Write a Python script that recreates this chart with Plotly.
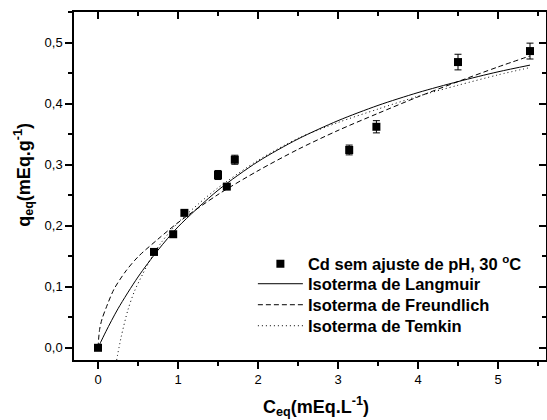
import plotly.graph_objects as go

# Experimental adsorption data (Cd, no pH adjustment, 30 °C)
c_eq = [0.0, 0.70, 0.94, 1.08, 1.50, 1.61, 1.71, 3.14, 3.48, 4.50, 5.40]
q_eq = [0.0, 0.157, 0.186, 0.221, 0.283, 0.264, 0.308, 0.324, 0.362, 0.468, 0.486]
q_err = [0.0, 0.004, 0.004, 0.004, 0.0074, 0.004, 0.0074, 0.008, 0.010, 0.0128, 0.013]

# Fitted isotherm curves
c_lang = [0, 0.1, 0.25, 0.5, 0.75, 1.0, 1.5, 2.0, 2.5, 3.0, 3.5, 4.0, 4.5, 5.0, 5.4]
q_lang = [0, 0.027, 0.064, 0.116, 0.160, 0.198, 0.258, 0.305, 0.342, 0.372, 0.397,
          0.418, 0.436, 0.452, 0.463]

c_freu = [0, 0.02, 0.05, 0.1, 0.2, 0.35, 0.5, 0.75, 1.0, 1.5, 2.0, 2.5, 3.0, 3.5,
          4.0, 4.5, 5.0, 5.4]
q_freu = [0, 0.030, 0.047, 0.065, 0.096, 0.126, 0.149, 0.178, 0.205, 0.251, 0.290,
          0.325, 0.356, 0.384, 0.411, 0.436, 0.460, 0.478]

c_temk = [0.233, 0.29, 0.374, 0.457, 0.56, 0.67, 0.8, 1.0, 1.25, 1.5, 2.0, 2.5, 3.0,
          3.5, 4.0, 4.5, 5.0, 5.4]
q_temk = [-0.02, 0.018, 0.062, 0.093, 0.121, 0.148, 0.174, 0.205, 0.235, 0.262, 0.307,
          0.343, 0.369, 0.391, 0.412, 0.430, 0.447, 0.459]

x_ticks = [0, 1, 2, 3, 4, 5]
y_ticks = [0.0, 0.1, 0.2, 0.3, 0.4, 0.5]
x_range = [-0.3, 5.6]
y_range = [-0.02, 0.55]

FONT = "Arial, Liberation Sans, sans-serif"

fig = go.Figure()

fig.add_trace(go.Scatter(
    x=c_lang, y=q_lang, mode="lines", name="Isoterma de Langmuir",
    line=dict(color="black", width=1, shape="spline", smoothing=0.8),
    legend="legend2",
))
fig.add_trace(go.Scatter(
    x=c_freu, y=q_freu, mode="lines", name="Isoterma de Freundlich",
    line=dict(color="black", width=1, dash="5px,3px", shape="spline", smoothing=0.8),
    legend="legend3",
))
fig.add_trace(go.Scatter(
    x=c_temk, y=q_temk, mode="lines", name="Isoterma de Temkin",
    line=dict(color="black", width=1, dash="1px,3px", shape="spline", smoothing=0.8),
    legend="legend4",
))
fig.add_trace(go.Scatter(
    x=c_eq, y=q_eq, mode="markers", name="Cd sem ajuste de pH, 30 <sup>o</sup>C",
    marker=dict(symbol="square", size=8, color="black"),
    error_y=dict(type="data", array=q_err, visible=True, color="black",
                 thickness=1, width=3.5),
    legend="legend",
))
# empty trace so the mirrored top/right axes are drawn
fig.add_trace(go.Scatter(x=[], y=[], xaxis="x2", yaxis="y2", showlegend=False,
                         hoverinfo="skip"))

axis_common = dict(showgrid=False, zeroline=False, showline=True, linecolor="black",
                   linewidth=1.5, tickcolor="black", tickwidth=1.5, ticklen=7,
                   tickfont=dict(family=FONT, size=13, color="black"))


def legend_box(y_px):
    # one legend entry per box, stacked at fixed rows
    return dict(x=0.379, y=(360 - y_px) / 348, xanchor="left", yanchor="middle",
                bgcolor="rgba(0,0,0,0)", borderwidth=0, itemwidth=45,
                font=dict(family=FONT, size=16.5, color="black", weight="bold"))


fig.update_layout(
    width=547, height=420,
    margin=dict(l=74, r=1, t=12, b=60),
    paper_bgcolor="white", plot_bgcolor="white",
    separators=",.",
    showlegend=True,
    legend=legend_box(264),
    legend2=legend_box(284),
    legend3=legend_box(305),
    legend4=legend_box(326),
    xaxis=dict(range=x_range, tickvals=x_ticks, ticks="outside",
               minor=dict(dtick=0.5, tick0=0, ticks="outside", ticklen=4,
                          tickwidth=1.5, tickcolor="black"),
               **axis_common),
    yaxis=dict(range=y_range, tickvals=y_ticks, tickformat=".1f", ticks="outside",
               minor=dict(dtick=0.05, tick0=0, ticks="outside", ticklen=4,
                          tickwidth=1.5, tickcolor="black"),
               **axis_common),
    xaxis2=dict(range=x_range, overlaying="x", side="top", anchor="y2",
                tickvals=x_ticks, ticks="inside", showticklabels=False,
                minor=dict(dtick=0.5, tick0=0, ticks="inside", ticklen=4,
                           tickwidth=1.5, tickcolor="black"),
                **axis_common),
    yaxis2=dict(range=y_range, overlaying="y", side="right", anchor="x2",
                tickvals=y_ticks, ticks="inside", showticklabels=False,
                minor=dict(dtick=0.05, tick0=0, ticks="inside", ticklen=4,
                           tickwidth=1.5, tickcolor="black"),
                **axis_common),
    annotations=[
        dict(text="<b>C<sub>eq</sub>(mEq.L<sup>-1</sup>)</b>", xref="paper", yref="paper",
             x=0.513, y=-0.135, xanchor="center", yanchor="middle", showarrow=False,
             font=dict(family=FONT, size=18, color="black")),
        dict(text="<b>q<sub>eq</sub>(mEq.g<sup>-1</sup>)</b>", xref="paper", yref="paper",
             x=-0.106, y=0.532, xanchor="center", yanchor="middle", showarrow=False,
             textangle=-90, font=dict(family=FONT, size=18, color="black")),
    ],
)

fig.write_html("out.html")
